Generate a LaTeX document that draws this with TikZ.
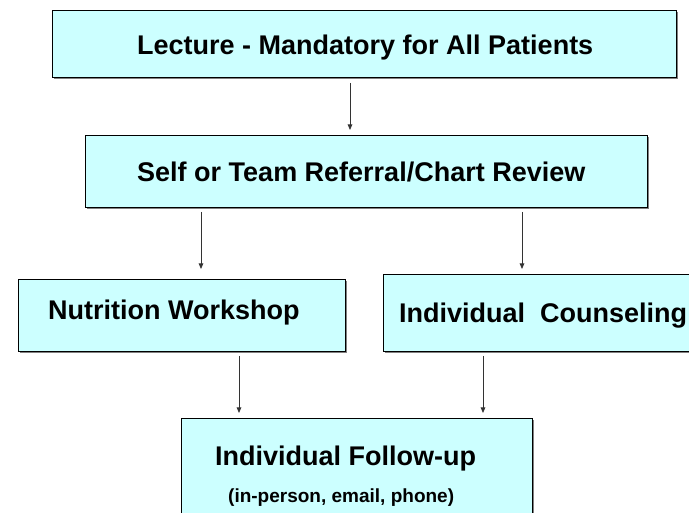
\documentclass[tikz,border=0pt]{standalone}
\usepackage{fontspec}
\setmainfont{Liberation Sans}
\usetikzlibrary{arrows.meta,shadows}
\definecolor{boxfill}{RGB}{204,255,255}
\definecolor{shadowgray}{RGB}{128,128,128}
\begin{document}
\begin{tikzpicture}[x=1pt,y=-1pt,
  box/.style={draw=black, line width=0.9pt, fill=boxfill, inner sep=0pt, outer sep=0pt,
    general shadow={fill=shadowgray, shadow xshift=2pt, shadow yshift=-2pt}},
  lbl/.style={inner sep=0pt, anchor=base west, font=\bfseries\fontsize{27}{32}\selectfont},
  small/.style={inner sep=0pt, anchor=base west, font=\bfseries\fontsize{19}{23}\selectfont},
  arr/.style={draw=black!80, line width=0.8pt, -{Triangle[width=4.5pt,length=5.5pt]}}]
  \useasboundingbox (0,0) rectangle (689,513);
  \clip (0,0) rectangle (689,513);

  % boxes
  \node[box, minimum width=624pt, minimum height=67pt] (lec) at (364,43.5) {};
  \node[box, minimum width=562pt, minimum height=72pt] (ref) at (366,171) {};
  \node[box, minimum width=327pt, minimum height=72pt] (nut) at (181.5,315) {};
  \node[box, minimum width=337pt, minimum height=77pt] (ind) at (551.5,312.5) {};
  \node[box, minimum width=351pt, minimum height=122pt] (fol) at (356.5,479) {};

  % labels
  \node[lbl] (tlec) at (137,55) {Lecture - Mandatory for All Patients};
  \node[lbl] (tref) at (137,182) {Self or Team Referral/Chart Review};
  \node[lbl] (tnut) at (48,320) {Nutrition Workshop};
  \node[lbl] (tind) at (399,323) {Individual\ \ Counseling};
  \node[lbl] (tfol) at (215,465) {Individual Follow-up};
  \node[small] (tfol2) at (228,502) {(in-person, email, phone)};

  % connector columns
  \coordinate (c1) at (350,0);
  \coordinate (c2) at (201,0);
  \coordinate (c3) at (522,0);
  \coordinate (c4) at (239,0);
  \coordinate (c5) at (483,0);

  % connectors
  \draw[arr, shorten <=6pt, shorten >=5pt] (lec.south -| c1) -- (ref.north -| c1);
  \draw[arr, shorten <=5pt, shorten >=10pt] (ref.south -| c2) -- (nut.north -| c2);
  \draw[arr, shorten <=5pt, shorten >=5pt] (ref.south -| c3) -- (ind.north -| c3);
  \draw[arr, shorten <=5pt, shorten >=5pt] (nut.south -| c4) -- (fol.north -| c4);
  \draw[arr, shorten <=5pt, shorten >=5pt] (ind.south -| c5) -- (fol.north -| c5);
\end{tikzpicture}
\end{document}
